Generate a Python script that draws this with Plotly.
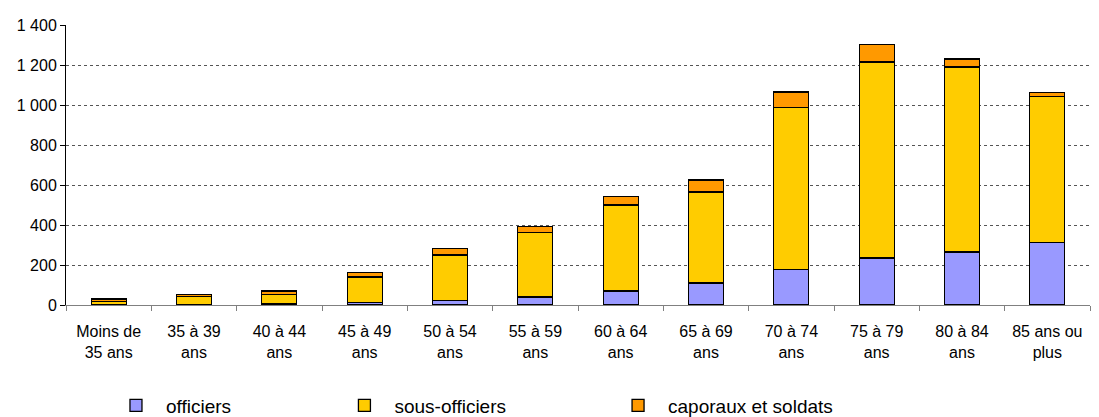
import plotly.graph_objects as go

categories = ["Moins de<br>35 ans", "35 à 39<br>ans", "40 à 44<br>ans", "45 à 49<br>ans",
              "50 à 54<br>ans", "55 à 59<br>ans", "60 à 64<br>ans", "65 à 69<br>ans",
              "70 à 74<br>ans", "75 à 79<br>ans", "80 à 84<br>ans", "85 ans ou<br>plus"]
officiers = [2, 2, 6, 12, 22, 40, 70, 110, 178, 235, 265, 312]
sous_officiers = [14, 42, 48, 128, 228, 322, 430, 455, 810, 980, 925, 730]
caporaux_soldats = [14, 10, 16, 22, 32, 30, 42, 60, 77, 88, 40, 22]

series = [
    ("officiers", officiers, "#9999FF", "legend", 0.0898),
    ("sous-officiers", sous_officiers, "#FFCC00", "legend2", 0.2992),
    ("caporaux et soldats", caporaux_soldats, "#FF9900", "legend3", 0.550),
]

fig = go.Figure()
for name, vals, col, leg, _ in series:
    fig.add_trace(go.Bar(
        x=categories, y=vals, name=name,
        marker=dict(color=col, line=dict(color="black", width=1.3)),
        legend=leg,
    ))

font = dict(family="Liberation Sans, Arial, sans-serif", size=16, color="black")

legends = {}
for name, vals, col, leg, xpos in series:
    legends[leg] = dict(x=xpos, y=0.028, xref="container", yref="container",
                        xanchor="left", yanchor="middle", itemwidth=50,
                        orientation="h", bgcolor="rgba(0,0,0,0)",
                        font=dict(family="Liberation Sans, Arial, sans-serif", size=19, color="black"))

# page body has an 8px margin, so the figure is sized to fit the window
fig.update_layout(
    barmode="stack",
    bargap=0.59,
    width=1091, height=409,
    margin=dict(l=58, r=9, t=14, b=112),
    plot_bgcolor="white", paper_bgcolor="white",
    font=font,
    separators=", ",
    showlegend=True,
    **legends,
    xaxis=dict(
        showline=True, linecolor="#808080", linewidth=1,
        ticks="outside", tickson="boundaries", ticklen=5, tickcolor="#808080",
        ticklabelstandoff=12,
        showgrid=False, tickfont=font,
    ),
    yaxis=dict(
        range=[0, 1400], dtick=200, tickformat=",d",
        showline=True, linecolor="black", linewidth=1,
        ticks="outside", ticklen=5, tickcolor="black",
        showgrid=True, gridcolor="#555555", griddash="dot", gridwidth=1,
        zeroline=False, tickfont=font,
    ),
)

fig.write_html("out.html")
